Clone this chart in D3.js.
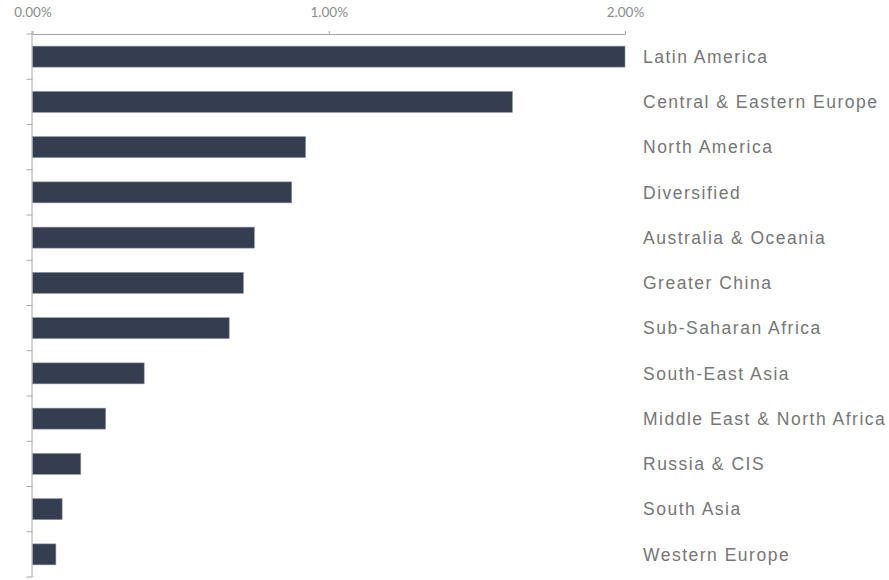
<!DOCTYPE html>
<html>
<head>
<meta charset="utf-8">
<script src="https://cdn.jsdelivr.net/npm/d3@7"></script>
<style>
	body{margin:0;background:#fff;}
	svg{display:block;}
</style>
</head>
<body>
<svg id="chart" width="889" height="580"></svg>
<script>
// regions, top to bottom
var regions = [
	'Latin America','Central & Eastern Europe','North America','Diversified',
	'Australia & Oceania','Greater China','Sub-Saharan Africa','South-East Asia',
	'Middle East & North Africa','Russia & CIS','South Asia','Western Europe'
];
// values in percent
var values = [2.00, 1.62, 0.922, 0.875, 0.749, 0.712, 0.664, 0.377, 0.247, 0.163, 0.10, 0.079];
var tickValues = [0, 1, 2];

var opt = {
	left:32.5,
	right:625,
	top:34,
	bottom:577,
	barColor:'#343e50',
	barStroke:'#8f97a5',
	axisColor:'#a6a6a6',
	tickFontColor:'#8c8c8c',
	labelColor:'#767676',
	labelX:643
};

var svg = d3.select('#chart');

var x = d3.scaleLinear()
	.domain([0, 2])
	.range([opt.left, opt.right]);

var y = d3.scaleBand()
	.domain(regions)
	.range([opt.top, opt.bottom])
	.paddingInner(0.536)
	.paddingOuter(0.268);

//bars
svg.append('g')
	.selectAll('rect')
	.data(values)
	.enter()
	.append('rect')
	.attr('x', x(0))
	.attr('y', function(d, i){ return y(regions[i]); })
	.attr('width', function(d){ return x(d) - x(0); })
	.attr('height', y.bandwidth())
	.attr('fill', opt.barColor)
	.attr('stroke', opt.barStroke)
	.attr('stroke-width', 0.6);

//top axis
var xAxis = d3.axisTop(x)
	.tickValues(tickValues)
	.tickSize(3)
	.tickSizeOuter(0)
	.tickPadding(14)
	.tickFormat(function(d){ return d.toFixed(2) + '%'; });

var gx = svg.append('g')
	.attr('transform', 'translate(0,' + opt.top + ')')
	.call(xAxis);
gx.select('.domain').attr('stroke', opt.axisColor);
gx.selectAll('.tick line').attr('stroke', opt.axisColor);
gx.selectAll('.tick text')
	.attr('fill', opt.tickFontColor)
	.attr('font-family', 'Lato, sans-serif')
	.attr('font-size', 13.5);

//left axis line + boundary ticks
var step = y.step();
var boundaries = [opt.top].concat(regions.map(function(r){
	return y(r) + y.bandwidth() + step * y.paddingInner() / 2;
}));
var gy = svg.append('g');
gy.append('line')
	.attr('x1', opt.left - 0.5).attr('x2', opt.left - 0.5)
	.attr('y1', opt.top - 3).attr('y2', opt.bottom)
	.attr('stroke', opt.axisColor);
gy.selectAll('line.tk')
	.data(boundaries)
	.enter()
	.append('line')
	.attr('class', 'tk')
	.attr('x1', opt.left - 6).attr('x2', opt.left)
	.attr('y1', function(d){ return d; })
	.attr('y2', function(d){ return d; })
	.attr('stroke', opt.axisColor);

//category labels on the right
svg.append('g')
	.selectAll('text')
	.data(regions)
	.enter()
	.append('text')
	.attr('x', opt.labelX)
	.attr('y', function(d){ return y(d) + y.bandwidth() / 2; })
	.attr('dy', '0.35em')
	.attr('fill', opt.labelColor)
	.attr('font-family', '"Liberation Sans", Arial, sans-serif')
	.attr('font-size', 17.5)
	.attr('letter-spacing', 1.5)
	.text(function(d){ return d; });
</script>
</body>
</html>
